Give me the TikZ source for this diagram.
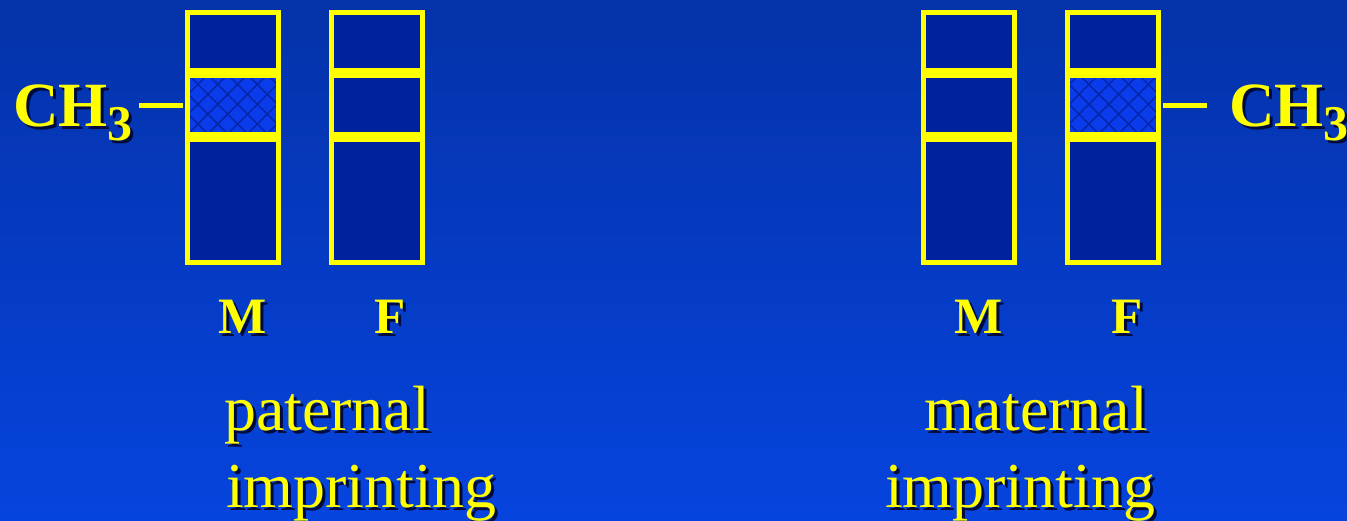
\documentclass[tikz,border=0pt]{standalone}
\usepackage{fontspec}
\setmainfont{Liberation Serif}
\usetikzlibrary{patterns.meta}
\definecolor{bgtop}{RGB}{4,50,168}
\definecolor{bgbot}{RGB}{6,68,222}
\definecolor{boxfill}{RGB}{0,34,158}
\definecolor{hatchfill}{RGB}{10,60,235}
\definecolor{hatchline}{RGB}{5,38,168}
\definecolor{yel}{RGB}{255,255,0}
\definecolor{shad}{RGB}{0,10,60}
\tikzset{
  seg/.style={draw=yel, line width=5pt, fill=boxfill, minimum width=91pt, inner sep=0pt, outer sep=0pt},
  segtop/.style={seg, minimum height=58pt},
  segmid/.style={seg, minimum height=59pt},
  segbot/.style={seg, minimum height=123pt},
  methyl/.style={fill=none,
                 preaction={fill=hatchfill},
                 preaction={pattern={Lines[angle=45,distance=14pt,line width=1.5pt]}, pattern color=hatchline},
                 preaction={pattern={Lines[angle=-45,distance=14pt,line width=1.5pt]}, pattern color=hatchline}},
  dashline/.style={draw=yel, line width=5pt},
  txt/.style={text=yel, inner sep=0pt, outer sep=0pt},
  chem/.style={txt, font=\fontsize{63}{63}\selectfont\bfseries},
  lab/.style={txt, font=\fontsize{51}{51}\selectfont\bfseries},
  big/.style={txt, font=\fontsize{64}{64}\selectfont},
}
\newcommand{\shtext}[1]{%
  \begin{tikzpicture}[baseline=(a.base)]
    \node[txt,text=shad,inner sep=0pt] at (3pt,-3pt) {#1};
    \node[txt,inner sep=0pt] (a) at (0,0) {#1};
  \end{tikzpicture}}
\newcommand{\chthree}{CH\raisebox{-14pt}{\fontsize{50}{50}\selectfont 3}}
\begin{document}
\begin{tikzpicture}[x=1pt,y=-1pt]
\useasboundingbox (0,0) rectangle (1347,520);
\shade[top color=bgtop, bottom color=bgbot] (0,0) rectangle (1347,520);

% left pair: M
\node[segtop] (lM1) at (233,41.5) {};
\node[segmid,methyl] (lM2) at (233,105) {};
\node[segbot] (lM3) at (233,201) {};
% left pair: F
\node[segtop] (lF1) at (377,41.5) {};
\node[segmid] (lF2) at (377,105) {};
\node[segbot] (lF3) at (377,201) {};
% right pair: M
\node[segtop] (rM1) at (968.5,41.5) {};
\node[segmid] (rM2) at (968.5,105) {};
\node[segbot] (rM3) at (968.5,201) {};
% right pair: F
\node[segtop] (rF1) at (1113,41.5) {};
\node[segmid,methyl] (rF2) at (1113,105) {};
\node[segbot] (rF3) at (1113,201) {};

% CH3 labels
\node[chem, anchor=base west] (chL) at (13,126) {\shtext{\chthree}};
\node[chem, anchor=base west] (chR) at (1229,126) {\shtext{\chthree}};
\coordinate (dL) at (139,105);
\coordinate (dR) at (1207,105);
\draw[dashline] (dL) -- ([xshift=-4.5pt]lM2.west);
\draw[dashline] ([xshift=4.5pt]rF2.east) -- (dR);

% M / F labels
\node[lab, anchor=base] (tlM) at (244.5,333) {\shtext{M}};
\node[lab, anchor=base] (tlF) at (392,333) {\shtext{F}};
\node[lab, anchor=base] (trM) at (980.5,333) {\shtext{M}};
\node[lab, anchor=base] (trF) at (1129,333) {\shtext{F}};

% captions
\node[big, anchor=base west] (pat1) at (224,430) {\shtext{paternal}};
\node[big, anchor=base west] (pat2) at (226,507) {\shtext{imprinting}};
\node[big, anchor=base east] (mat1) at (1151,430) {\shtext{maternal}};
\node[big, anchor=base west] (mat2) at (885,507) {\shtext{imprinting}};
\end{tikzpicture}
\end{document}
